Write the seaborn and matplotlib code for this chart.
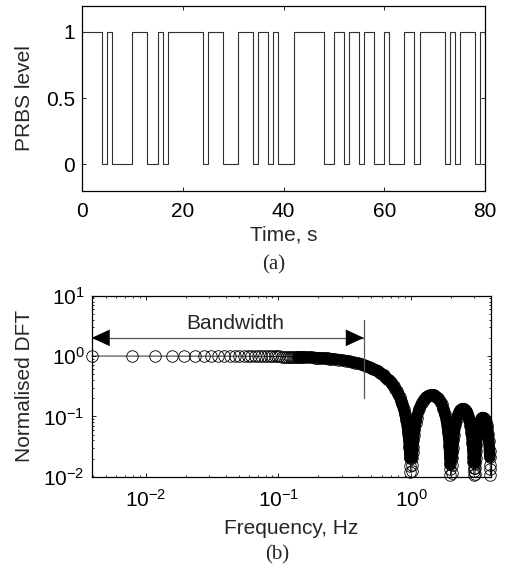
import matplotlib
matplotlib.use("Agg")
import matplotlib.pyplot as plt
import numpy as np
import pandas as pd
import seaborn as sns

# ---------------- data ----------------
# (a) PRBS: switching instants (s) and level held from each instant (steps-post)
switch_time_s = [0, 4, 5, 6, 10, 13, 15, 16, 17, 24, 25, 28, 31, 34, 35, 37, 38, 39,
                 42, 48, 50, 52, 53, 55, 56, 58, 60, 61, 64, 66, 67, 72, 73, 74, 75,
                 78, 79, 80]
prbs_level = [1, 0] * 18 + [1, 1]

# (b) normalised DFT magnitude
record_length_s = 256
dft_bin_low = list(range(1, 41)) + list(range(42, 65, 2))
dft_mag_low = [1.0000, 0.9999, 0.9998, 0.9996, 0.9994, 0.9991, 0.9988, 0.9984, 0.9980, 0.9975,
               0.9970, 0.9964, 0.9958, 0.9951, 0.9944, 0.9936, 0.9928, 0.9919, 0.9909, 0.9900,
               0.9889, 0.9879, 0.9867, 0.9856, 0.9843, 0.9831, 0.9817, 0.9803, 0.9789, 0.9776,
               0.9761, 0.9745, 0.9729, 0.9712, 0.9695, 0.9678, 0.9660, 0.9642, 0.9623, 0.9603,
               0.9563, 0.9521, 0.9478, 0.9432, 0.9384, 0.9335, 0.9284, 0.9232, 0.9177, 0.9121,
               0.9063, 0.9003]

freq_main_hz = [0.26, 0.28, 0.30, 0.32, 0.34, 0.36, 0.38, 0.40, 0.42, 0.44, 0.46, 0.48, 0.50,
                0.52, 0.54, 0.56, 0.58, 0.60, 0.62, 0.64, 0.66, 0.68, 0.70, 0.72, 0.74, 0.76,
                0.78, 0.80, 0.82, 0.84, 0.86, 0.88, 0.90, 0.92, 0.94, 0.95, 0.96, 0.97, 0.975,
                0.98, 0.985, 0.988]
dft_mag_main = [0.8925, 0.8759, 0.8584, 0.8399, 0.8204, 0.8000, 0.7788, 0.7568, 0.7341, 0.7106,
                0.6865, 0.6618, 0.6366, 0.6109, 0.5848, 0.5583, 0.5316, 0.5046, 0.4774, 0.4500,
                0.4226, 0.3952, 0.3679, 0.3406, 0.3136, 0.2867, 0.2601, 0.2339, 0.2080, 0.1826,
                0.1576, 0.1332, 0.1093, 0.0860, 0.0635, 0.0524, 0.0416, 0.0309, 0.0256, 0.0204,
                0.0152, 0.0121]

freq_lobe1_hz = [1.012, 1.015, 1.02, 1.025, 1.03, 1.04, 1.05, 1.06, 1.08, 1.10, 1.15, 1.20,
                 1.25, 1.30, 1.35, 1.40, 1.45, 1.50, 1.55, 1.60, 1.65, 1.70, 1.75, 1.80, 1.85,
                 1.90, 1.92, 1.94, 1.95, 1.96, 1.97, 1.975, 1.98]
dft_mag_lobe1 = [0.0125, 0.0155, 0.0206, 0.0256, 0.0305, 0.0403, 0.0498, 0.0591, 0.0770, 0.0939,
                 0.1319, 0.1637, 0.1891, 0.2080, 0.2206, 0.2270, 0.2277, 0.2228, 0.2130, 0.1987,
                 0.1805, 0.1591, 0.1350, 0.1091, 0.0820, 0.0544, 0.0433, 0.0323, 0.0268, 0.0214,
                 0.0160, 0.0133, 0.0106]

freq_lobe2_hz = [2.022, 2.03, 2.04, 2.05, 2.06, 2.08, 2.10, 2.15, 2.20, 2.25, 2.30, 2.35, 2.40,
                 2.45, 2.50, 2.55, 2.60, 2.65, 2.70, 2.75, 2.80, 2.85, 2.90, 2.92, 2.94, 2.95,
                 2.96, 2.965, 2.97]
dft_mag_lobe2 = [0.0114, 0.0155, 0.0205, 0.0255, 0.0304, 0.0400, 0.0492, 0.0706, 0.0893, 0.1050,
                 0.1176, 0.1267, 0.1324, 0.1347, 0.1337, 0.1295, 0.1223, 0.1124, 0.1001, 0.0859,
                 0.0702, 0.0532, 0.0356, 0.0285, 0.0213, 0.0177, 0.0142, 0.0124, 0.0106]

freq_lobe3_hz = [3.032, 3.04, 3.05, 3.06, 3.08, 3.10, 3.15, 3.20, 3.25, 3.30, 3.35, 3.40, 3.45,
                 3.50, 3.55, 3.60, 3.65, 3.70, 3.75, 3.80, 3.85, 3.90, 3.92, 3.94, 3.95, 3.96]
dft_mag_lobe3 = [0.0111, 0.0138, 0.0171, 0.0205, 0.0270, 0.0333, 0.0482, 0.0614, 0.0727, 0.0819,
                 0.0889, 0.0935, 0.0957, 0.0955, 0.0930, 0.0883, 0.0816, 0.0731, 0.0630, 0.0517,
                 0.0394, 0.0265, 0.0212, 0.0159, 0.0132, 0.0106]

bandwidth_hz = 0.44
bandwidth_marker_y = [0.2, 4.0]
bandwidth_arrow_y = 2.0
bandwidth_text_pos = (0.047, 3.45)

time_ticks = [0, 20, 40, 60, 80]
level_ticks = [0, 0.5, 1]
level_tick_labels = ["0", "0.5", "1"]

# ---------------- style ----------------
sns.set_theme(style="ticks")
plt.rcParams["font.family"] = ["Liberation Sans", "DejaVu Sans"]
plt.rcParams["mathtext.fontset"] = "custom"
plt.rcParams["mathtext.rm"] = "Liberation Sans"
plt.rcParams["mathtext.it"] = "Liberation Sans:italic"
plt.rcParams["axes.unicode_minus"] = True
FS = 15
MS = 8.3  # marker diameter (pt)

W, H = 505, 569
fig = plt.figure(figsize=(W / 100, H / 100), dpi=100)
fig.patch.set_facecolor("white")


def px_axes(l, t, r, b):
    return fig.add_axes([l / W, 1 - b / H, (r - l) / W, (b - t) / H])


def style_axes(ax, xpad=5):
    for sp in ax.spines.values():
        sp.set_visible(True)
        sp.set_color("black")
        sp.set_linewidth(0.9)
    ax.tick_params(which="both", direction="in", top=True, right=True,
                   colors="black", labelsize=FS, width=0.6)
    ax.tick_params(which="major", length=3.2)
    ax.tick_params(which="minor", length=1.7)
    ax.tick_params(axis="x", which="major", pad=xpad)
    ax.tick_params(axis="y", which="major", pad=5)
    ax.set_facecolor("white")
    ax.grid(False)


# ---------------- (a) PRBS ----------------
ax1 = px_axes(82, 5.5, 485, 190.7)
prbs_df = pd.DataFrame({"t": switch_time_s, "level": prbs_level})
sns.lineplot(data=prbs_df, x="t", y="level", ax=ax1, drawstyle="steps-post",
             estimator=None, sort=False, color="#303030", linewidth=0.8)
ax1.set_xlim(0, 80)
ax1.set_ylim(-0.2, 1.2)
ax1.set_xticks(time_ticks)
ax1.set_yticks(level_ticks)
ax1.set_yticklabels(level_tick_labels)
style_axes(ax1, xpad=8)
ax1.set_xlabel("Time, s", fontsize=FS)
ax1.xaxis.set_label_coords(0.5, (190.7 - 235) / 185.2)
ax1.xaxis.label.set_va("center")
ax1.set_ylabel("PRBS level", fontsize=FS)
ax1.yaxis.set_label_coords((25 - 82) / 403, 0.5)
ax1.yaxis.label.set_va("center")
fig.text(273.5 / W, 1 - 265 / H, "(a)", ha="center", va="center",
         fontsize=FS, family="Liberation Serif")

# ---------------- (b) DFT ----------------
ax2 = px_axes(91.7, 295.7, 491, 476.7)
freq_all = ([b / record_length_s for b in dft_bin_low] + freq_main_hz +
            freq_lobe1_hz + freq_lobe2_hz + freq_lobe3_hz)
mag_all = dft_mag_low + dft_mag_main + dft_mag_lobe1 + dft_mag_lobe2 + dft_mag_lobe3
dft_df = pd.DataFrame({"f": freq_all, "mag": mag_all})

# dense region of overlapping markers (band): same points drawn as a stroke as wide
# as the marker, split into lobes at the nulls
band_df = dft_df[(dft_df["f"] >= 0.14) & (dft_df["mag"] >= 0.016)].copy()
band_df["lobe"] = np.floor(band_df["f"]).astype(int)
sns.lineplot(data=band_df, x="f", y="mag", units="lobe", ax=ax2, estimator=None,
             sort=False, color="black", linewidth=MS,
             solid_capstyle="round", solid_joinstyle="round", clip_on=False)

sns.lineplot(data=dft_df, x="f", y="mag", ax=ax2, estimator=None, sort=False,
             color="black", linewidth=0.6, marker="o", markersize=MS,
             markerfacecolor="none", markeredgecolor="black", markeredgewidth=0.6,
             clip_on=False)
ax2.set_xscale("log")
ax2.set_yscale("log")
ax2.set_xlim(1 / record_length_s, 4)
ax2.set_ylim(1e-2, 1e1)
style_axes(ax2, xpad=9)
ax2.set_xlabel("Frequency, Hz", fontsize=FS)
ax2.xaxis.set_label_coords(0.5, (476.7 - 528) / 181.0)
ax2.xaxis.label.set_va("center")
ax2.set_ylabel("Normalised DFT", fontsize=FS)
ax2.yaxis.set_label_coords((25 - 91.7) / 399.3, 0.5)
ax2.yaxis.label.set_va("center")

# bandwidth marker
ax2.plot([bandwidth_hz, bandwidth_hz], bandwidth_marker_y, color="#555555", lw=0.9)
ax2.plot([1 / record_length_s, bandwidth_hz], [bandwidth_arrow_y] * 2, color="#555555", lw=0.9)
ax2.annotate("", xy=(1 / record_length_s, bandwidth_arrow_y),
             xytext=(bandwidth_hz, bandwidth_arrow_y),
             arrowprops=dict(arrowstyle="<|-|>,head_length=1.3,head_width=0.6",
                             color="black", lw=0.0, shrinkA=0, shrinkB=0,
                             mutation_scale=10))
ax2.text(bandwidth_text_pos[0], bandwidth_text_pos[1], "Bandwidth", ha="center",
         va="center", fontsize=FS)
fig.text(277 / W, 1 - 555 / H, "(b)", ha="center", va="center",
         fontsize=FS, family="Liberation Serif")

fig.savefig("out.png", dpi=100, facecolor="white")
